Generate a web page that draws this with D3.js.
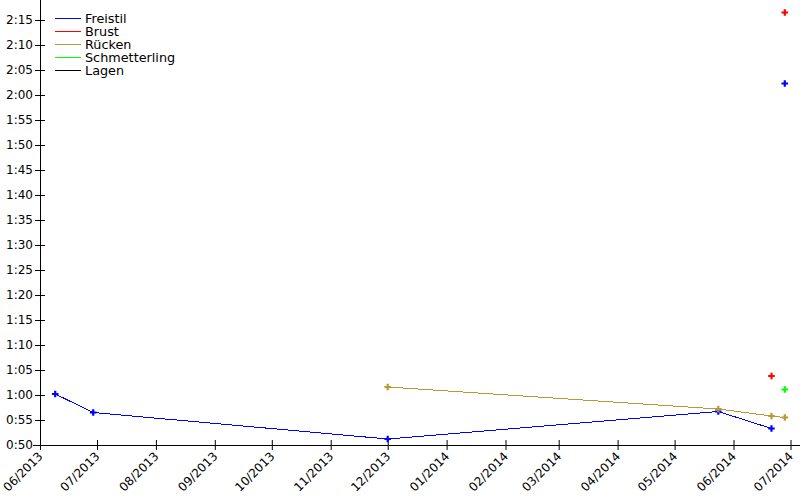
<!DOCTYPE html>
<html><head><meta charset="utf-8">
<script src="https://cdn.jsdelivr.net/npm/d3@7"></script>
<style>
body{margin:0;background:#fff;}
text{font-family:"DejaVu Sans",sans-serif;font-size:12px;fill:#000;}
</style></head>
<body><svg id="c" width="800" height="500"></svg>
<script>
const legendNames = ["Freistil","Brust","Rücken","Schmetterling","Lagen"];
const legendColors = ["#0000ff","#ff0000","#b89a32","#00ff00","#000000"];

const freistilDates = ["2013-06-09","2013-06-29","2013-12-01","2014-05-24","2014-06-21"];
const freistilValues = [60.2,56.5,51.2,56.7,53.3];
const freistil2Dates = ["2014-06-28"];
const freistil2Values = [122.3];
const brustDates = ["2014-06-21"];
const brustValues = [63.8];
const brust2Dates = ["2014-06-28"];
const brust2Values = [136.5];
const rueckenDates = ["2013-12-01","2014-05-24","2014-06-21","2014-06-28"];
const rueckenValues = [61.6,57.2,55.8,55.5];
const schmetterlingDates = ["2014-06-28"];
const schmetterlingValues = [61.1];

const xTickDates = ["2013-06-01","2013-07-01","2013-08-01","2013-09-01","2013-10-01","2013-11-01","2013-12-01","2014-01-01","2014-02-01","2014-03-01","2014-04-01","2014-05-01","2014-06-01","2014-07-01"];
const yTickValues = [50,55,60,65,70,75,80,85,90,95,100,105,110,115,120,125,130,135];

(function(){
const parse = d3.utcParse("%Y-%m-%d");
const series = [
  {c:0, d:freistilDates, v:freistilValues},
  {c:0, d:freistil2Dates, v:freistil2Values},
  {c:1, d:brustDates, v:brustValues},
  {c:1, d:brust2Dates, v:brust2Values},
  {c:2, d:rueckenDates, v:rueckenValues},
  {c:3, d:schmetterlingDates, v:schmetterlingValues}
].map(s=>({color:legendColors[s.c], pts:s.d.map((d,i)=>({x:parse(d), y:s.v[i]}))}));

const svg = d3.select("#c");
const mLeft = 40, mRight = 800, mTop = 0, mBottom = 445;
const x = d3.scaleUtc().domain([parse("2013-06-01"), parse("2014-07-06")]).range([mLeft, mRight]);
const y = d3.scaleLinear().domain([50, 139]).range([mBottom, mTop]);

const fmtTime = v => Math.floor(v/60) + ":" + String(Math.round(v%60)).padStart(2,"0");

// y axis
const ya = svg.append("g").attr("transform",`translate(${mLeft},0)`)
  .call(d3.axisLeft(y).tickValues(yTickValues).tickFormat(fmtTime).tickSizeInner(5).tickSizeOuter(0));
ya.select(".domain").remove();
ya.selectAll(".tick line").attr("x1",5).attr("x2",-5).attr("stroke","#000");
ya.selectAll(".tick text").attr("x",-7).style("font-size","12px").style("font-family","DejaVu Sans");
ya.append("line").attr("x1",0).attr("x2",0).attr("y1",mTop).attr("y2",mBottom).attr("stroke","#000").attr("shape-rendering","crispEdges");

// x axis
const xa = svg.append("g").attr("transform",`translate(0,${mBottom})`)
  .call(d3.axisBottom(x).tickValues(xTickDates.map(parse)).tickFormat(d3.utcFormat("%m/%Y")).tickSizeInner(5).tickSizeOuter(0));
xa.select(".domain").remove();
xa.selectAll(".tick line").attr("y1",-5).attr("y2",5).attr("stroke","#000");
xa.selectAll(".tick text").attr("y",0).attr("dy",0)
  .attr("text-anchor","end")
  .attr("transform","translate(3,12) rotate(-45)")
  .style("font-size","12px").style("font-family","DejaVu Sans");
xa.append("line").attr("x1",mLeft-7).attr("x2",mRight).attr("y1",0).attr("y2",0).attr("stroke","#000").attr("shape-rendering","crispEdges");

// lines
const line = d3.line().x(d=>x(d.x)).y(d=>y(d.y));
series.forEach(s=>{
  if (s.pts.length>1) svg.append("path").attr("d",line(s.pts)).attr("fill","none")
    .attr("stroke",s.color).attr("stroke-width",1).attr("shape-rendering","crispEdges");
  svg.selectAll(null).data(s.pts).enter().append("path")
    .attr("d", d3.symbol(d3.symbolCross, 24)())
    .attr("transform", d=>`translate(${x(d.x)},${y(d.y)})`)
    .attr("fill", s.color);
});

// legend
const lg = svg.append("g");
legendNames.forEach((n,i)=>{
  const yy = 18 + i*13;
  lg.append("line").attr("x1",55).attr("x2",81).attr("y1",yy+0.5).attr("y2",yy+0.5)
    .attr("stroke",legendColors[i]).attr("stroke-width",1);
  lg.append("text").attr("x",85).attr("y",yy+5).style("font-size","12.8px").text(n);
});
})();
</script></body></html>
